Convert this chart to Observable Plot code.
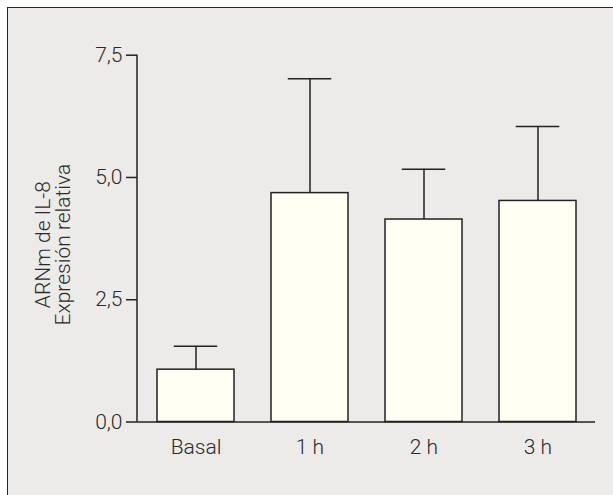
<!DOCTYPE html>
<html><head><meta charset="utf-8">
<script src="https://cdn.jsdelivr.net/npm/d3@7"></script>
<script src="https://cdn.jsdelivr.net/npm/@observablehq/plot@0.6"></script>
<style>
html,body{margin:0;padding:0;background:#fff;}
#wrap{position:relative;width:613px;height:495px;overflow:hidden;}
#frame{position:absolute;left:7px;top:7px;width:640px;height:520px;border-left:1.5px solid #222;border-top:1.5px solid #222;background:#ECEBE9;}
#chart{position:absolute;left:0;top:0;}
</style></head><body>
<div id="wrap"><div id="frame"></div><div id="chart"></div></div>
<script>
const categories = ["Basal", "1 h", "2 h", "3 h"];
const means = [1.07, 4.68, 4.14, 4.52];
const errors = [0.48, 2.34, 1.03, 1.52];
const yTicks = [0, 2.5, 5, 7.5];
const yLabelLines = ["ARNm de IL-8", "Expresión relativa"];

const data = categories.map((c, i) => ({cat: c, mean: means[i], upper: means[i] + errors[i]}));
const fmt = d => d.toFixed(1).replace(".", ",");
const ink = "#222";
const txt = "#2a2a2a";

const chart = Plot.plot({
  width: 613, height: 495,
  marginLeft: 137, marginRight: 18, marginTop: 54.7, marginBottom: 73.5,
  style: {background: "transparent", fontFamily: "Roboto, 'Liberation Sans', Arial, sans-serif", fontWeight: 300, fontSize: "21px", color: txt},
  x: {domain: categories, paddingInner: 0.325, paddingOuter: 0.157, axis: null},
  y: {domain: [0, 7.5], axis: null},
  marks: [
    Plot.ruleX(data, {x: "cat", y1: "mean", y2: "upper", stroke: ink, strokeWidth: 1.5}),
    Plot.barY(data, {x: "cat", y: "mean", fill: "#FFFFF3", stroke: ink, strokeWidth: 1.5}),
    Plot.tickY(data, {x: "cat", y: "upper", stroke: ink, strokeWidth: 1.5, inset: 16.75}),
    Plot.axisY({ticks: yTicks, tickFormat: fmt, tickSize: 11, tickPadding: 4, label: null, stroke: ink, strokeWidth: 1.5, fill: txt, fontSize: 21, fontWeight: 300}),
    Plot.axisX({tickSize: 0, tickPadding: 17, label: null, fill: txt, fontSize: 21, fontWeight: 300}),
    Plot.ruleY([0], {stroke: ink, strokeWidth: 1.5}),
    (index, scales, values, dims) => d3.create("svg:line")
      .attr("x1", dims.marginLeft).attr("x2", dims.marginLeft)
      .attr("y1", scales.y(0)).attr("y2", scales.y(7.5))
      .attr("stroke", ink).attr("stroke-width", 1.5).node(),
    Plot.text([yLabelLines.join("\n")], {text: d => d, frameAnchor: "left", textAnchor: "middle", rotate: -90, dx: -84, dy: 6, lineHeight: 0.97, fontSize: 21, fontWeight: 300, fill: txt})
  ]
});
document.getElementById("chart").appendChild(chart);
</script>
</body></html>
